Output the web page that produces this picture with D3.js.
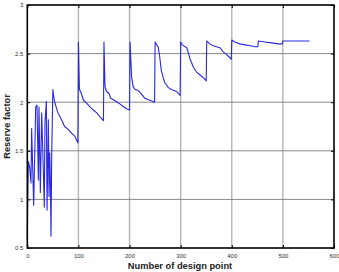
<!DOCTYPE html>
<html>
<head>
<meta charset="utf-8">
<script src="https://cdn.jsdelivr.net/npm/d3@7"></script>
<style>
  body { margin: 0; background: #fff; }
  svg { display: block; font-family: "Liberation Sans", Arial, sans-serif; }
</style>
</head>
<body>
<div id="chart"></div>
<script>
// Values
const designPoint = [
  0, 2, 4.6, 7.2, 8.5, 12.5, 16.4, 19, 21.6, 22.9, 25.5, 28.1, 30.7, 33.3, 34.6, 37.3, 38.6,
  41.2, 42.5, 43.8, 45.1, 46.4, 47.7, 50,
  53, 60, 67, 73, 80, 87, 93, 99,
  100, 102, 105, 110, 116, 123, 129, 136, 142, 149,
  150, 152, 155, 160, 163, 170, 179, 189, 195, 200,
  201, 204, 207, 211, 217, 224, 230, 240, 249,
  250, 253, 256, 259, 262, 266, 269, 276, 282, 292, 297, 299,
  300, 303, 312, 315, 318, 325, 331, 338, 345, 350,
  351, 357, 364, 370, 377, 383, 390, 396, 399,
  400, 406, 416, 426, 436, 446, 451,
  452, 465, 478, 491, 499,
  500, 552
];
const reserveFactor = [
  0.6, 1.39, 1.33, 1.17, 1.73, 0.94, 1.95, 1.97, 1.2, 1.95, 1.07, 1.89, 1.42, 0.92, 1.79, 2.01, 0.89,
  1.82, 1.03, 1.48, 1.2, 0.62, 1.44, 2.13,
  2.01, 1.89, 1.82, 1.75, 1.72, 1.68, 1.65, 1.58,
  2.62, 2.13, 2.1, 2.02, 1.99, 1.95, 1.92, 1.89, 1.85, 1.81,
  2.62, 2.16, 2.11, 2.09, 2.04, 2.02, 1.99, 1.95, 1.93, 1.92,
  2.62, 2.26, 2.16, 2.13, 2.12, 2.08, 2.04, 2.02, 2.0,
  2.62, 2.59, 2.57, 2.47, 2.33, 2.25, 2.2, 2.15, 2.13, 2.11, 2.08, 2.07,
  2.62, 2.59, 2.56, 2.51, 2.45, 2.36, 2.31, 2.28, 2.25, 2.22,
  2.63, 2.6, 2.58, 2.57, 2.56, 2.52, 2.49, 2.46, 2.44,
  2.64, 2.62, 2.6, 2.59, 2.58, 2.57, 2.57,
  2.63, 2.62, 2.61, 2.6, 2.6,
  2.63, 2.63
];
const xTicks = [0, 100, 200, 300, 400, 500, 600];
const yTicks = [0.5, 1, 1.5, 2, 2.5, 3];

const width = 339, height = 272;
const margin = { top: 5, right: 5, bottom: 24, left: 27.3 };

const svg = d3.select("#chart").append("svg")
    .attr("width", width)
    .attr("height", height);

const x = d3.scaleLinear().domain([0, 600]).range([margin.left, width - margin.right]);
const y = d3.scaleLinear().domain([0.5, 3]).range([height - margin.bottom, margin.top]);

// grid lines
svg.append("g").selectAll("line")
    .data(xTicks.slice(1, -1))
    .enter().append("line")
    .attr("x1", d => x(d)).attr("x2", d => x(d))
    .attr("y1", y(3)).attr("y2", y(0.5))
    .attr("stroke", "#b4b4b4")
    .attr("stroke-width", 1.4);

svg.append("g").selectAll("line")
    .data(yTicks.slice(1, -1))
    .enter().append("line")
    .attr("x1", x(0)).attr("x2", x(600))
    .attr("y1", d => y(d)).attr("y2", d => y(d))
    .attr("stroke", "#7a7a7a")
    .attr("stroke-width", 0.9);

// the series
const line = d3.line()
    .x((d, i) => x(designPoint[i]))
    .y(d => y(d));

svg.append("path")
    .datum(reserveFactor)
    .attr("d", line)
    .attr("fill", "none")
    .attr("stroke", "#2828e6")
    .attr("stroke-width", 1.1)
    .attr("stroke-linejoin", "round");

// axes (ticks inward, box around plot)
const plain = d => String(d);

svg.append("g")
    .attr("transform", `translate(0, ${y(0.5)})`)
    .call(d3.axisBottom(x).tickValues(xTicks).tickSize(-3).tickPadding(6).tickFormat(plain))
    .call(g => g.select(".domain").remove())
    .call(g => g.selectAll("text").attr("font-size", 6).attr("fill", "#333"));

svg.append("g")
    .attr("transform", `translate(0, ${y(3)})`)
    .call(d3.axisTop(x).tickValues(xTicks).tickSize(-3).tickFormat(""))
    .call(g => g.select(".domain").remove());

svg.append("g")
    .attr("transform", `translate(${x(0)}, 0)`)
    .call(d3.axisLeft(y).tickValues(yTicks).tickSize(-3).tickPadding(4).tickFormat(plain))
    .call(g => g.select(".domain").remove())
    .call(g => g.selectAll("text").attr("font-size", 6).attr("fill", "#333"));

svg.append("g")
    .attr("transform", `translate(${x(600)}, 0)`)
    .call(d3.axisRight(y).tickValues(yTicks).tickSize(-3).tickFormat(""))
    .call(g => g.select(".domain").remove());

svg.append("rect")
    .attr("x", x(0)).attr("y", y(3))
    .attr("width", x(600) - x(0))
    .attr("height", y(0.5) - y(3))
    .attr("fill", "none")
    .attr("stroke", "#000")
    .attr("stroke-width", 1.6);

// axis titles
svg.append("text")
    .attr("x", 180)
    .attr("y", 269)
    .attr("text-anchor", "middle")
    .attr("font-size", 9.3)
    .attr("font-weight", "bold")
    .attr("fill", "#222")
    .text("Number of design point");

svg.append("text")
    .attr("transform", `translate(10.3, ${(y(0.5) + y(3)) / 2}) rotate(-90)`)
    .attr("text-anchor", "middle")
    .attr("font-size", 9.3)
    .attr("font-weight", "bold")
    .attr("fill", "#222")
    .text("Reserve factor");
</script>
</body>
</html>
